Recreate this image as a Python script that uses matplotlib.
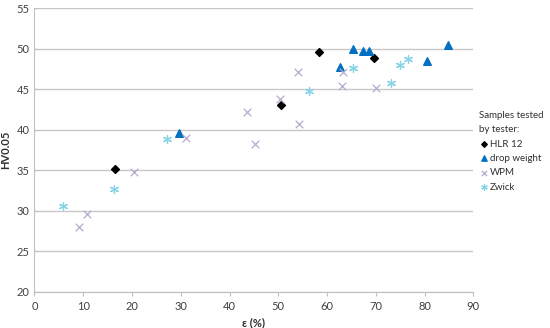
import matplotlib
matplotlib.use('Agg')
import matplotlib.pyplot as plt

plt.rcParams['font.family'] = ['Lato', 'DejaVu Sans']

# data
hlr_x = [16.6, 50.5, 58.4, 69.6]
hlr_y = [35.15, 43.0, 49.65, 48.85]

drop_x = [29.7, 62.6, 65.3, 67.4, 68.5, 80.4, 84.7]
drop_y = [39.6, 47.8, 50.0, 49.75, 49.75, 48.5, 50.5]

wpm_x = [9.2, 10.7, 20.5, 31.1, 43.5, 45.2, 50.4, 54.0, 54.3, 63.0, 63.3, 70.0]
wpm_y = [28.0, 29.6, 34.8, 38.95, 42.15, 38.3, 43.8, 47.1, 40.65, 45.45, 47.1, 45.1]

zwick_x = [5.8, 16.3, 27.2, 56.2, 65.4, 73.1, 75.0, 76.5]
zwick_y = [30.55, 32.7, 38.85, 44.75, 47.6, 45.75, 48.0, 48.75]

fig = plt.figure(figsize=(5.5, 3.28), dpi=100)
ax = fig.add_axes([0.0627, 0.1107, 0.798, 0.864])

ax.scatter(hlr_x, hlr_y, marker='D', s=16, color='black', label='HLR 12', zorder=3)
ax.scatter(drop_x, drop_y, marker='^', s=30, color='#0070C0', label='drop weight', zorder=3)
ax.scatter(wpm_x, wpm_y, marker='x', s=30, color='#B7A9CE', linewidths=0.9, label='WPM', zorder=3)
ax.scatter(zwick_x, zwick_y, marker=(6, 2, 0), s=34, color='#86D3E6', linewidths=0.9, label='Zwick', zorder=3)

ax.set_xlim(0, 90)
ax.set_ylim(20, 55)
ax.set_xticks(range(0, 91, 10))
ax.set_yticks(range(20, 56, 5))
ax.grid(axis='y', color='#C8C8C8', linewidth=1.0)
ax.set_axisbelow(True)

for s in ['top', 'right']:
    ax.spines[s].set_visible(False)
for s in ['left', 'bottom']:
    ax.spines[s].set_color('#BFBFBF')
ax.tick_params(axis='x', colors='#BFBFBF', length=3, labelcolor='#404040', labelsize=8)
ax.tick_params(axis='y', colors='#BFBFBF', length=3, direction='in', labelcolor='#404040', labelsize=8)

ax.set_xlabel('ε (%)', fontsize=8, fontweight='bold', color='#303030', labelpad=4)
ax.set_ylabel('HV0.05', fontsize=8, fontweight='bold', color='#303030', labelpad=4)

leg = ax.legend(loc='upper left', bbox_to_anchor=(0.993, 0.67), frameon=False,
                title='Samples tested\nby tester:', fontsize=7, title_fontsize=7,
                handletextpad=0.1, handlelength=1.0, labelspacing=0.55, markerscale=0.7)
leg._legend_box.align = 'left'
for t in leg.get_texts():
    t.set_color('#303030')
leg.get_title().set_color('#303030')
leg.get_title().set_linespacing(1.8)

fig.savefig('out.png', dpi=100)
